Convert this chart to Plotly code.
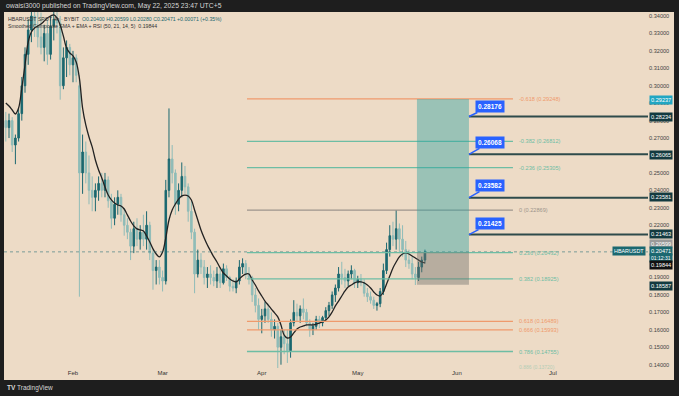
import plotly.graph_objects as go
import pandas as pd

# ---------------- data (daily candles) ----------------
start_date = "2025-01-11"
opens = [0.280,0.276,0.280,0.266,0.270,0.284,0.300,0.318,0.332,0.340,
         0.334,0.328,0.322,0.330,0.318,0.334,0.338,0.336,0.300,0.316,
         0.322,0.312,0.316,0.300,0.250,0.262,0.250,0.240,0.236,0.240,
         0.244,0.240,0.246,0.234,0.224,0.232,0.236,0.226,0.220,0.216,
         0.208,0.218,0.212,0.216,0.212,0.220,0.204,0.194,0.196,0.190,
         0.188,0.240,0.258,0.250,0.232,0.240,0.248,0.242,0.228,0.216,
         0.192,0.200,0.196,0.190,0.192,0.190,0.188,0.192,0.187,0.195,
         0.190,0.185,0.184,0.188,0.196,0.198,0.192,0.190,0.180,0.174,
         0.166,0.168,0.172,0.166,0.160,0.162,0.150,0.156,0.152,0.148,
         0.164,0.170,0.168,0.172,0.170,0.164,0.160,0.162,0.166,0.164,
         0.167,0.171,0.174,0.180,0.184,0.192,0.190,0.188,0.192,0.194,
         0.187,0.189,0.187,0.181,0.179,0.177,0.174,0.175,0.182,0.194,
         0.206,0.214,0.212,0.218,0.212,0.206,0.200,0.198,0.192,0.190,
         0.196,0.200]
highs = [0.285,0.284,0.282,0.272,0.287,0.305,0.322,0.338,0.350,0.355,
         0.345,0.342,0.335,0.338,0.340,0.346,0.352,0.340,0.322,0.326,
         0.324,0.320,0.318,0.306,0.272,0.268,0.260,0.248,0.244,0.248,
         0.250,0.250,0.248,0.238,0.236,0.240,0.238,0.230,0.224,0.218,
         0.222,0.224,0.220,0.226,0.228,0.222,0.206,0.200,0.200,0.194,
         0.246,0.287,0.266,0.252,0.244,0.256,0.254,0.244,0.234,0.218,
         0.206,0.204,0.200,0.196,0.197,0.194,0.196,0.195,0.198,0.197,
         0.191,0.189,0.190,0.200,0.201,0.200,0.196,0.191,0.184,0.178,
         0.172,0.176,0.175,0.170,0.166,0.164,0.160,0.160,0.160,0.166,
         0.177,0.175,0.174,0.178,0.172,0.166,0.164,0.168,0.168,0.168,
         0.173,0.176,0.182,0.186,0.196,0.199,0.195,0.194,0.197,0.195,
         0.191,0.192,0.189,0.184,0.182,0.179,0.176,0.184,0.198,0.210,
         0.220,0.222,0.2287,0.221,0.220,0.211,0.206,0.202,0.196,0.199,
         0.202,0.206]
lows = [0.268,0.270,0.262,0.255,0.268,0.280,0.296,0.312,0.325,0.328,
        0.322,0.318,0.314,0.312,0.315,0.326,0.330,0.292,0.298,0.305,
        0.306,0.302,0.302,0.179,0.238,0.244,0.232,0.228,0.228,0.234,
        0.236,0.236,0.230,0.218,0.220,0.226,0.222,0.214,0.212,0.200,
        0.204,0.208,0.206,0.208,0.206,0.200,0.183,0.186,0.186,0.182,
        0.186,0.236,0.244,0.226,0.228,0.236,0.238,0.222,0.212,0.181,
        0.190,0.192,0.186,0.184,0.186,0.185,0.184,0.184,0.186,0.188,
        0.182,0.182,0.181,0.186,0.192,0.189,0.186,0.176,0.170,0.160,
        0.158,0.164,0.164,0.156,0.155,0.136,0.140,0.146,0.141,0.144,
        0.162,0.165,0.164,0.166,0.162,0.156,0.157,0.160,0.161,0.162,
        0.165,0.168,0.172,0.176,0.182,0.186,0.184,0.185,0.189,0.184,
        0.184,0.185,0.179,0.176,0.175,0.172,0.171,0.173,0.180,0.192,
        0.202,0.208,0.206,0.204,0.202,0.196,0.195,0.189,0.1857,0.188,
        0.193,0.198]
closes = [0.276,0.280,0.266,0.270,0.284,0.300,0.318,0.332,0.340,0.334,
          0.328,0.322,0.330,0.318,0.334,0.338,0.336,0.300,0.316,0.322,
          0.312,0.316,0.306,0.250,0.262,0.250,0.240,0.236,0.240,0.244,
          0.240,0.246,0.234,0.224,0.232,0.236,0.226,0.220,0.216,0.208,
          0.218,0.212,0.216,0.212,0.220,0.204,0.194,0.196,0.190,0.188,
          0.240,0.258,0.250,0.232,0.240,0.248,0.242,0.228,0.216,0.192,
          0.200,0.196,0.190,0.192,0.190,0.188,0.192,0.187,0.195,0.190,
          0.185,0.184,0.188,0.196,0.198,0.192,0.190,0.180,0.174,0.166,
          0.168,0.172,0.166,0.160,0.162,0.150,0.156,0.152,0.148,0.164,
          0.170,0.168,0.172,0.170,0.164,0.160,0.162,0.166,0.164,0.167,
          0.171,0.174,0.180,0.184,0.192,0.190,0.188,0.192,0.194,0.187,
          0.189,0.187,0.181,0.179,0.177,0.174,0.175,0.182,0.194,0.206,
          0.214,0.212,0.218,0.212,0.206,0.200,0.198,0.192,0.190,0.196,
          0.200,0.20471]
smoothed = [0.2901,0.2884,0.2861,0.2838,0.2872,0.2987,0.3119,0.3251,0.3308,0.3331,
            0.3343,0.3354,0.3371,0.3389,0.3400,0.3406,0.3389,0.3348,0.3285,0.3216,
            0.3188,0.3171,0.3136,0.3044,0.2872,0.2775,0.2706,0.2649,0.2574,0.2517,
            0.2471,0.2419,0.2373,0.2345,0.2327,0.2316,0.2310,0.2293,0.2259,0.2224,
            0.2196,0.2179,0.2173,0.2167,0.2138,0.2104,0.2064,0.2035,0.2018,0.2046,
            0.2127,0.2230,0.2287,0.2322,0.2350,0.2368,0.2373,0.2368,0.2345,0.2287,
            0.2230,0.2173,0.2127,0.2087,0.2052,0.2018,0.1989,0.1955,0.1926,0.1909,
            0.1892,0.1880,0.1875,0.1892,0.1909,0.1920,0.1920,0.1886,0.1857,0.1823,
            0.1794,0.1765,0.1742,0.1719,0.1697,0.1674,0.1628,0.1570,0.1553,0.1559,
            0.1582,0.1605,0.1616,0.1622,0.1628,0.1628,0.1628,0.1633,0.1639,0.1645,
            0.1656,0.1674,0.1702,0.1737,0.1765,0.1794,0.1823,0.1846,0.1857,0.1869,
            0.1875,0.1875,0.1869,0.1857,0.1840,0.1817,0.1800,0.1794,0.1817,0.1863,
            0.1909,0.1955,0.1989,0.2018,0.2035,0.2041,0.2035,0.2023,0.2012,0.2000,
            0.1989,0.19844]

# price ticks visible in the reference (0.20, 0.21, 0.26 are hidden under badges)
price_ticks = [0.14,0.15,0.16,0.17,0.18,0.19,0.22,0.23,0.24,
               0.25,0.27,0.28,0.29,0.30,0.31,0.32,0.33,0.34]
month_ticks = ["2025-02-01","2025-03-01","2025-04-01","2025-05-01","2025-06-01","2025-07-01"]
month_labels = ["Feb","Mar","Apr","May","Jun","Jul"]

fib_levels = ["-0.618","-0.382","-0.236","0","0.236","0.382","0.618","0.666","0.786"]
fib_prices = [0.29248,0.26812,0.25305,0.22869,0.20432,0.18925,0.16489,0.15993,0.14755]
fib_kinds  = ["o","t","t","g","t","t","o","o","t"]
fib_extra_label = "0.886 (0.13720)"

target_lines = [0.28234,0.26065,0.23581,0.21463]
callout_texts = ["0.28176","0.26068","0.23582","0.21425"]
entry_price = 0.20450
tp_price = 0.29237
sl_price = 0.18587
last_price = 0.20471
bar_high = 0.20599
ma_last = 0.19844

# ---------------- styling ----------------
BEIGE = "#EDDBC6"
DARK = "#1e1e1e"
UP = "#1b6870"
DOWN = "#8fbcb8"
ORANGE = "#ef9a6c"
TEAL = "#6dbda4"
GRAYL = "#9d958c"
FONT = "Liberation Sans"

W, H = 679, 396
L, R, T, B = 4, 648, 12, 368   # plot area in pixels
def px_x(px): return (px - L) / (R - L)
def px_y(py): return (B - py) / (B - T)

x_left = "2025-01-10 10:30"
x_right = "2025-07-30 17:00"
fib_x0, fib_x1, fib_lbl_x = "2025-03-27 09:00", "2025-06-18 12:00", "2025-06-19 18:00"
pos_x0, pos_x1 = "2025-05-19 12:00", "2025-06-04 18:00"

dates = pd.date_range(start_date, periods=len(closes), freq="D")

fig = go.Figure()
fig.add_trace(go.Candlestick(
    x=dates, open=opens, high=highs, low=lows, close=closes,
    increasing=dict(line=dict(color=UP, width=1), fillcolor=UP),
    decreasing=dict(line=dict(color=DOWN, width=1), fillcolor=DOWN),
    whiskerwidth=0, showlegend=False, hoverinfo="skip"))
fig.add_trace(go.Scatter(x=dates, y=smoothed, mode="lines",
                         line=dict(color="#222222", width=1.3, shape="spline"),
                         showlegend=False, hoverinfo="skip"))

shapes = []
shapes.append(dict(type="rect", xref="paper", yref="paper", x0=0, x1=px_x(674),
                   y0=px_y(380), y1=1, fillcolor=BEIGE, line=dict(width=0), layer="below"))
shapes.append(dict(type="line", xref="x", yref="y", x0=x_left, x1=x_right,
                   y0=last_price, y1=last_price,
                   line=dict(color="rgba(27,104,112,0.55)", width=1, dash="dot")))
col_of = {"o": ORANGE, "t": TEAL, "g": GRAYL}
for lvl, p, k in zip(fib_levels, fib_prices, fib_kinds):
    shapes.append(dict(type="line", xref="x", yref="y", x0=fib_x0, x1=fib_x1,
                       y0=p, y1=p, line=dict(color=col_of[k], width=1.3)))
shapes.append(dict(type="rect", xref="x", yref="y", x0=pos_x0, x1=pos_x1,
                   y0=entry_price, y1=tp_price, fillcolor="rgba(40,160,160,0.42)",
                   line=dict(width=0)))
shapes.append(dict(type="rect", xref="x", yref="y", x0=pos_x0, x1=pos_x1,
                   y0=sl_price, y1=entry_price, fillcolor="rgba(110,110,105,0.42)",
                   line=dict(width=0)))
for p in target_lines:
    shapes.append(dict(type="line", xref="x", yref="y", x0=pos_x1, x1=x_right,
                       y0=p, y1=p, line=dict(color="#2e4b4b", width=2)))

ann = []
def txt(px, py, text, color, size=6.5, xanchor="left", **kw):
    ann.append(dict(xref="paper", yref="paper", x=px_x(px), y=px_y(py), text=text,
                    showarrow=False, xanchor=xanchor, yanchor="middle",
                    font=dict(color=color, size=size, family=FONT), **kw))

txt(4, 6, "owaisi3000 published on TradingView.com, May 22, 2025 23:47 UTC+5", "#d6d6d6", 6.8)
txt(6, 18.7, "HBARUSDT SPOT·4h · BYBIT  "
    "<span style='color:#1b6870'>O0.20400 H0.20599 L0.20280 C0.20471 +0.00071 (+0.35%)</span>",
    "#333333", 5.2)
txt(6, 25.7, "Smoothed Composite SMA + EMA + RSI (50, 21, 14, 5)  0.19844", "#333333", 5.2)
txt(5, 388, "<b>TV</b> TradingView", "#d8d8d8", 6.5)

for lvl, p, k in zip(fib_levels, fib_prices, fib_kinds):
    ann.append(dict(xref="x", yref="y", x=fib_lbl_x, y=p, text=f"{lvl} ({p:.5f})",
                    showarrow=False, xanchor="left", yanchor="middle",
                    font=dict(color=col_of[k], size=5.6, family=FONT)))
ann.append(dict(xref="x", yref="y", x=fib_lbl_x, y=0.1386, text=fib_extra_label,
                showarrow=False, xanchor="left", yanchor="middle", opacity=0.45,
                font=dict(color=TEAL, size=5, family=FONT)))

ay_off = [-10, -12, -12, -11]
for p, t, ay in zip(target_lines, callout_texts, ay_off):
    ann.append(dict(xref="x", yref="y", x=pos_x1, y=p, text=f"<b>{t}</b>",
                    showarrow=True, arrowhead=0, arrowwidth=1.5, arrowcolor="#2962ff",
                    ax=21, ay=ay, bgcolor="#2962ff", borderpad=2,
                    font=dict(color="white", size=6.5, family=FONT)))

def badge(text, py, bg, fg="white", size=5.6):
    ann.append(dict(xref="paper", yref="paper", x=px_x(649), y=px_y(py), text=text,
                    showarrow=False, xanchor="left", yanchor="middle", bgcolor=bg,
                    borderpad=1, font=dict(color=fg, size=size, family=FONT)))
badge(f"{tp_price:.5f}", 99.7, "#21a6c2")
for p, py in zip(target_lines, [117.3, 154.7, 197.3, 234.3]):
    badge(f"{p:.5f}", py, "#133a40")
badge(f"{bar_high:.5f}", 244.3, "#9a9a9a")
badge("01:12:31", 257.8, "#1b6870", size=5)
badge(f"{last_price:.5f}", 251.5, "#1b6870")
badge(f"{ma_last:.5f}", 265.3, "#111111")
badge(f"{sl_price:.5f}", 285.7, "#133a40")
txt(646, 251.5, "HBARUSDT", "white", 5.4, xanchor="right", bgcolor="#1b6870", borderpad=1)

fig.update_layout(
    width=W, height=H,
    margin=dict(l=L, r=W - R, t=T, b=H - B, pad=0, autoexpand=False),
    paper_bgcolor=DARK, plot_bgcolor=BEIGE,
    shapes=shapes, annotations=ann, hovermode=False, dragmode=False,
    xaxis=dict(type="date", range=[x_left, x_right], rangeslider=dict(visible=False),
               showgrid=False, zeroline=False, showline=False, automargin=False,
               tickvals=month_ticks, ticktext=month_labels, ticks="",
               tickfont=dict(size=6, color="#333333", family=FONT)),
    yaxis=dict(side="right", range=[0.1381, 0.3423], showgrid=False, zeroline=False,
               showline=False, automargin=False, tickvals=price_ticks,
               ticktext=[f"{v:.5f}" for v in price_ticks], ticks="",
               tickfont=dict(size=5.6, color="#444444", family=FONT)),
    font=dict(family=FONT),
)
fig.write_html("out.html", config={"displayModeBar": False},
               post_script="document.body.style.margin='0';document.body.style.background='#1e1e1e';")
